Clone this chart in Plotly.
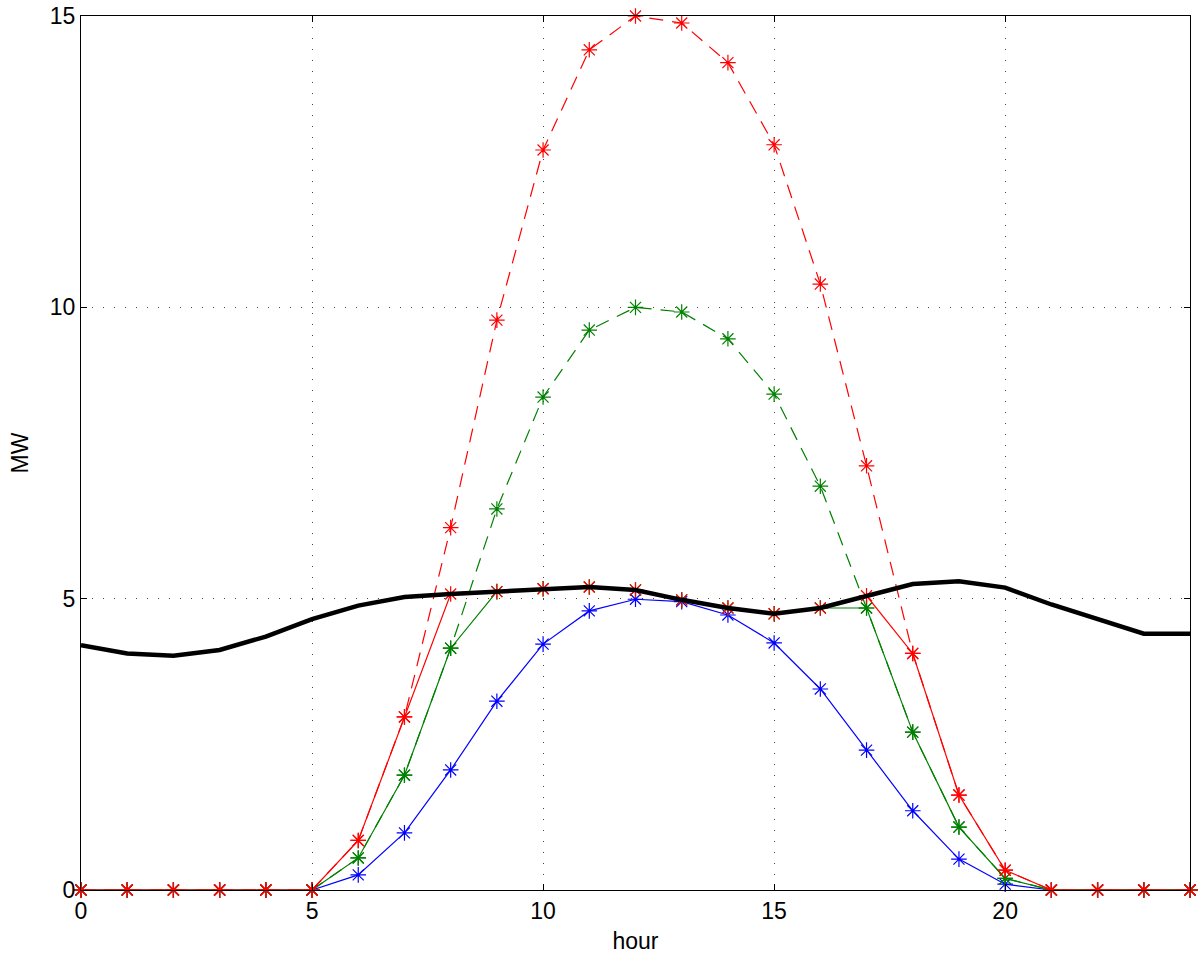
import plotly.graph_objects as go

hours = list(range(25))

load_mw = [4.20, 4.06, 4.02, 4.12, 4.35, 4.65, 4.88, 5.03, 5.08, 5.12, 5.17, 5.20, 5.15,
           4.98, 4.84, 4.74, 4.84, 5.05, 5.25, 5.30, 5.19, 4.90, 4.65, 4.40, 4.40]

pv_blue = [0, 0, 0, 0, 0, 0, 0.26, 0.98, 2.06, 3.24, 4.22, 4.79, 4.99,
           4.95, 4.72, 4.24, 3.45, 2.40, 1.36, 0.53, 0.10, 0, 0, 0, 0]

pv_green_avail = [0, 0, 0, 0, 0, 0, 0.55, 1.97, 4.15, 6.54, 8.46, 9.61, 10.0,
                  9.92, 9.46, 8.51, 6.93, 4.84, 2.71, 1.08, 0.20, 0, 0, 0, 0]
pv_green_used = [0, 0, 0, 0, 0, 0, 0.55, 1.97, 4.15, 5.12, 5.17, 5.20, 5.15,
                 4.98, 4.84, 4.74, 4.84, 4.84, 2.71, 1.08, 0.20, 0, 0, 0, 0]

pv_red_avail = [0, 0, 0, 0, 0, 0, 0.85, 2.97, 6.22, 9.78, 12.70, 14.42, 15.0,
                14.88, 14.20, 12.79, 10.40, 7.28, 4.06, 1.63, 0.34, 0, 0, 0, 0]
pv_red_used = [0, 0, 0, 0, 0, 0, 0.85, 2.97, 5.08, 5.12, 5.17, 5.20, 5.15,
               4.98, 4.84, 4.74, 4.84, 5.05, 4.06, 1.63, 0.34, 0, 0, 0, 0]

x_ticks = [0, 5, 10, 15, 20]
y_ticks = [0, 5, 10, 15]

RED = "#FF0000"
GREEN = "#008000"
BLUE = "#0000FF"
DASH = "14px,9px"
FONT = "Liberation Sans, Arial, sans-serif"


def marker(color):
    return dict(symbol="asterisk-open", size=13, color=color,
                line=dict(width=1.2, color=color))


fig = go.Figure()
fig.add_trace(go.Scatter(x=hours, y=pv_blue, mode="lines+markers", cliponaxis=False,
                         line=dict(color=BLUE, width=1.2), marker=marker(BLUE)))
fig.add_trace(go.Scatter(x=hours, y=pv_green_avail, mode="lines+markers", cliponaxis=False,
                         line=dict(color=GREEN, width=1.2, dash=DASH), marker=marker(GREEN)))
fig.add_trace(go.Scatter(x=hours, y=pv_green_used, mode="lines+markers", cliponaxis=False,
                         line=dict(color=GREEN, width=1.2), marker=marker(GREEN)))
fig.add_trace(go.Scatter(x=hours, y=pv_red_avail, mode="lines+markers", cliponaxis=False,
                         line=dict(color=RED, width=1.2, dash=DASH), marker=marker(RED)))
fig.add_trace(go.Scatter(x=hours, y=pv_red_used, mode="lines+markers", cliponaxis=False,
                         line=dict(color=RED, width=1.2), marker=marker(RED)))
fig.add_trace(go.Scatter(x=hours, y=load_mw, mode="lines",
                         line=dict(color="black", width=4.5)))

axis_common = dict(
    showline=True, linecolor="black", linewidth=1, mirror="ticks",
    ticks="inside", ticklen=6, tickcolor="black", tickwidth=1,
    showgrid=True, gridcolor="#444444", gridwidth=1, griddash="1px,10px",
    zeroline=False, automargin=False,
    tickfont=dict(family=FONT, size=23, color="black"),
)

fig.update_layout(
    width=1202, height=958,
    margin=dict(l=81, r=12, t=16, b=68, autoexpand=False),
    paper_bgcolor="white", plot_bgcolor="white",
    showlegend=False,
    font=dict(family=FONT, size=23, color="black"),
    xaxis=dict(range=[0, 24], tickvals=x_ticks, ticktext=[str(v) for v in x_ticks],
               title=dict(text="hour", standoff=10, font=dict(family=FONT, size=23)),
               **axis_common),
    yaxis=dict(range=[0, 15], tickvals=y_ticks, ticktext=[str(v) for v in y_ticks],
               title=dict(text="MW", standoff=14, font=dict(family=FONT, size=23)),
               **axis_common),
)

fig.write_html("out.html", config={"displayModeBar": False},
               post_script="document.body.style.margin='0';")
